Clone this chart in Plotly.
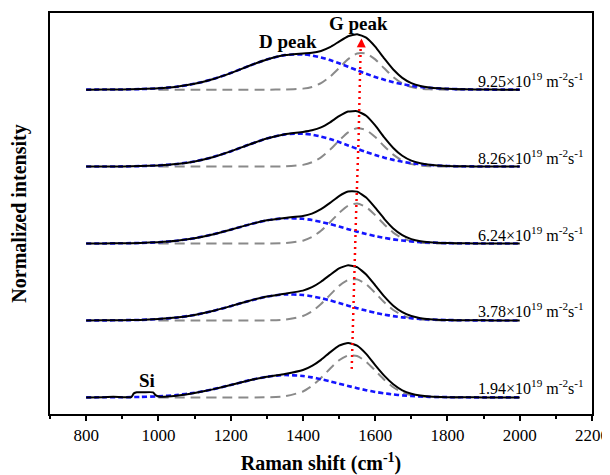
import plotly.graph_objects as go

# ---------------- data ----------------
FLUX_LABELS = ["1.94", "3.78", "6.24", "8.26", "9.25"]   # ×10^19 m^-2 s^-1
OFFSETS = [0, 1, 2, 3, 4]

# common Raman-shift grid (cm^-1) for spectra 2-5 and the D-peak fits
RAMAN_X = [800, 850, 900, 950, 1000, 1050, 1100, 1150, 1200, 1250, 1300, 1350,
           1400, 1425, 1450, 1475, 1500, 1525, 1550, 1575, 1600, 1625, 1650,
           1675, 1700, 1725, 1750, 1800, 1850, 1900, 1950, 2000]

# grid of the lowest spectrum (includes the Si feature)
RAMAN_X_194 = [800, 850, 875, 900, 925, 932, 940, 960, 985, 992, 1005, 1050,
               1100, 1150, 1200, 1250, 1300, 1350, 1400, 1425, 1450, 1475, 1500,
               1525, 1550, 1575, 1600, 1625, 1650, 1675, 1700, 1725, 1750, 1800,
               1850, 1900, 1950, 2000]

# grid of the G-peak fits
G_X = [1000, 1100, 1200, 1300, 1350, 1400, 1425, 1450, 1475, 1500, 1525, 1550,
       1575, 1600, 1625, 1650, 1675, 1700, 1725, 1750, 1800, 1850]

# measured spectra (normalized intensity)
SPEC_194 = [0, .003, .007, .003, .004, .052, .066, .067, .066, .030, .008, .022,
            .058, .104, .160, .220, .268, .304, .355, .409, .488, .585, .672,
            .708, .672, .565, .419, .282, .170, .092, .047, .023, .011, .003,
            .001, 0, 0, 0]
SPEC_378 = [0, .001, .003, .007, .018, .037, .071, .122, .186, .253, .311, .347,
            .388, .432, .503, .592, .676, .718, .693, .597, .457, .312, .191,
            .107, .057, .030, .016, .005, .002, .001, 0, 0]
SPEC_624 = [0, .001, .003, .007, .017, .036, .069, .118, .180, .245, .301, .333,
            .358, .389, .446, .528, .617, .676, .674, .597, .466, .321, .196,
            .109, .057, .029, .016, .005, .002, .001, 0, 0]
SPEC_826 = [0, .001, .002, .006, .015, .033, .067, .122, .197, .284, .365, .420,
            .450, .471, .509, .575, .655, .715, .720, .660, .534, .379, .242,
            .140, .077, .043, .025, .008, .003, .001, 0, 0]
SPEC_925 = [0, .001, .002, .007, .017, .038, .076, .135, .215, .307, .392, .449,
            .471, .479, .503, .552, .624, .694, .721, .675, .558, .405, .261,
            .153, .085, .047, .028, .010, .004, .001, 0, 0]

# D-peak fits (blue dashed), on RAMAN_X
DFIT_194 = [0, .001, .002, .006, .014, .031, .060, .105, .161, .221, .268, .290,
            .278, .260, .236, .208, .178, .148, .120, .094, .071, .053, .038,
            .026, .018, .012, .007, .003, .001, 0, 0, 0]
DFIT_378 = [0, .001, .003, .007, .018, .037, .071, .122, .186, .253, .310, .338,
            .331, .314, .290, .260, .227, .192, .159, .128, .100, .076, .056,
            .040, .028, .019, .013, .005, .002, .001, 0, 0]
DFIT_624 = [0, .001, .003, .007, .017, .036, .069, .118, .180, .245, .301, .328,
            .321, .305, .281, .252, .220, .186, .154, .124, .097, .074, .054,
            .039, .027, .018, .013, .005, .002, .001, 0, 0]
DFIT_826 = [0, .001, .002, .006, .015, .033, .067, .122, .197, .284, .365, .418,
            .428, .415, .390, .357, .318, .275, .231, .189, .150, .115, .087,
            .063, .045, .031, .021, .008, .003, .001, 0, 0]
DFIT_925 = [0, .001, .002, .007, .017, .038, .076, .135, .215, .307, .392, .448,
            .458, .444, .419, .384, .343, .297, .251, .206, .165, .128, .097,
            .071, .051, .035, .024, .010, .004, .001, 0, 0]

# G-peak fits (grey dashed), on G_X
GFIT_194 = [0, 0, 0, .001, .014, .077, .149, .252, .373, .482, .544, .537, .463,
            .348, .229, .132, .066, .029, .011, .004, 0, 0]
GFIT_378 = [0, 0, 0, .001, .009, .057, .118, .213, .332, .449, .526, .534, .469,
            .357, .236, .135, .067, .029, .011, .003, 0, 0]
GFIT_624 = [0, 0, 0, 0, .005, .037, .084, .165, .276, .397, .490, .520, .473,
            .369, .247, .142, .070, .030, .011, .003, 0, 0]
GFIT_826 = [0, 0, 0, 0, .002, .022, .056, .119, .218, .337, .445, .499, .475,
            .384, .264, .155, .077, .032, .012, .004, 0, 0]
GFIT_925 = [0, 0, 0, 0, .001, .013, .035, .084, .168, .281, .397, .470, .469,
            .393, .277, .164, .082, .034, .012, .004, 0, 0]

# G-peak position shift (red dotted arrow)
GPOS_X = [1535, 1540, 1547, 1554, 1560]
GPOS_Y = [0.37, 1.37, 2.37, 3.37, 4.60]
ARROW_TIP = (1562, 4.665)

X_TICKS = [800, 1000, 1200, 1400, 1600, 1800, 2000, 2200]

# ---------------- figure ----------------
FONT = "Liberation Serif, Times New Roman, serif"
spectra = [(RAMAN_X_194, SPEC_194), (RAMAN_X, SPEC_378), (RAMAN_X, SPEC_624),
           (RAMAN_X, SPEC_826), (RAMAN_X, SPEC_925)]
dfits = [DFIT_194, DFIT_378, DFIT_624, DFIT_826, DFIT_925]
gfits = [GFIT_194, GFIT_378, GFIT_624, GFIT_826, GFIT_925]

fig = go.Figure()
for (sx, sy), dy, gy, off in zip(spectra, dfits, gfits, OFFSETS):
    fig.add_trace(go.Scatter(
        x=G_X, y=[v + off for v in gy], mode="lines",
        line=dict(color="#8a8a8a", width=2, dash="10px,6px", shape="spline", smoothing=0.6),
        hoverinfo="skip"))
    fig.add_trace(go.Scatter(
        x=RAMAN_X, y=[v + off for v in dy], mode="lines",
        line=dict(color="#1414ff", width=2.6, dash="5px,3px", shape="spline", smoothing=0.6),
        hoverinfo="skip"))
    fig.add_trace(go.Scatter(
        x=sx, y=[v + off for v in sy], mode="lines",
        line=dict(color="black", width=2, shape="spline", smoothing=0.4),
        hoverinfo="skip"))

fig.add_trace(go.Scatter(
    x=GPOS_X, y=GPOS_Y, mode="lines",
    line=dict(color="#ff0000", width=2.5, dash="2px,4px"), hoverinfo="skip"))

annotations = []
annotations.append(dict(x=ARROW_TIP[0], y=ARROW_TIP[1], ax=ARROW_TIP[0] - 0.5, ay=ARROW_TIP[1] - 0.1,
                        xref="x", yref="y", axref="x", ayref="y", text="", showarrow=True,
                        arrowhead=2, arrowsize=0.9, arrowwidth=2, arrowcolor="#ff0000"))
for lab, off in zip(FLUX_LABELS, OFFSETS):
    annotations.append(dict(
        x=2182, y=off, xref="x", yref="y", xanchor="right", yanchor="bottom",
        text=f"{lab}×10<sup>19</sup> m<sup>-2</sup>s<sup>-1</sup>", showarrow=False,
        font=dict(family=FONT, size=16, color="black"), yshift=-2))
annotations.append(dict(x=1360, y=4.63, xref="x", yref="y", text="<b>D peak</b>",
                        showarrow=False, font=dict(family=FONT, size=19, color="black")))
annotations.append(dict(x=1554, y=4.864, xref="x", yref="y", text="<b>G peak</b>",
                        showarrow=False, font=dict(family=FONT, size=19, color="black")))
annotations.append(dict(x=968, y=0.215, xref="x", yref="y", text="<b>Si</b>",
                        showarrow=False, font=dict(family=FONT, size=19, color="black")))

# the page adds an 8 px body margin, so the figure is 602x467 and margins are shifted
fig.update_layout(
    width=602, height=467,
    margin=dict(l=41.5, r=17.5, t=4.5, b=61),
    paper_bgcolor="white", plot_bgcolor="white",
    showlegend=False,
    font=dict(family=FONT, size=16, color="black"),
    annotations=annotations,
    xaxis=dict(
        range=[700, 2200], tickmode="array", tickvals=X_TICKS,
        ticks="outside", ticklen=5, tickwidth=1.5, tickcolor="black",
        minor=dict(dtick=100, tick0=700, ticks="outside", ticklen=3, tickwidth=1.5, tickcolor="black"),
        showline=True, linewidth=2, linecolor="black", mirror=True,
        showgrid=False, zeroline=False, automargin=False,
        tickfont=dict(family=FONT, size=17, color="black"),
        title=dict(text="<b>Raman shift (cm<sup>-1</sup>)</b>", standoff=18,
                   font=dict(family=FONT, size=20, color="black")),
    ),
    yaxis=dict(
        range=[-0.216, 4.996], showticklabels=False, ticks="",
        showline=True, linewidth=2, linecolor="black", mirror=True,
        showgrid=False, zeroline=False, automargin=False,
        title=dict(text="<b>Normalized intensity</b>", standoff=18,
                   font=dict(family=FONT, size=20, color="black")),
    ),
)

fig.write_html("out.html")
